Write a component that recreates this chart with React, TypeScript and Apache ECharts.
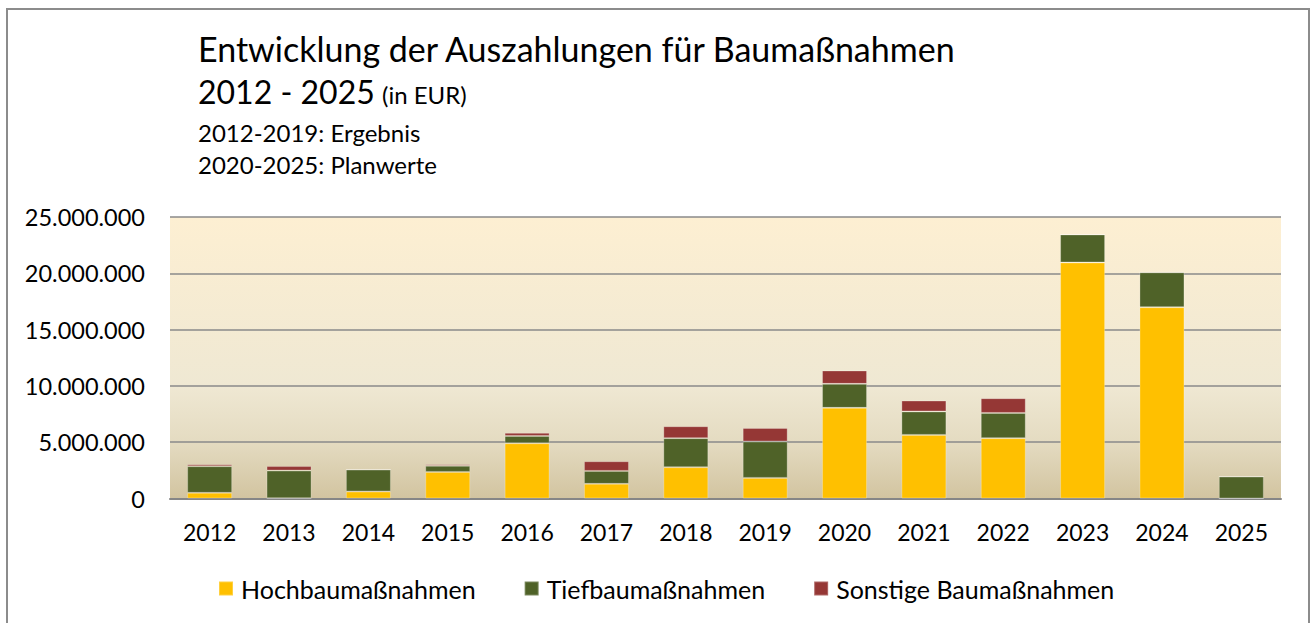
import React, { useEffect, useRef } from "react";
import * as echarts from "echarts";

const YEARS = ["2012", "2013", "2014", "2015", "2016", "2017", "2018", "2019", "2020", "2021", "2022", "2023", "2024", "2025"];
const HOCHBAU = [500000, 30000, 620000, 2360000, 4910000, 1300000, 2780000, 1830000, 8050000, 5650000, 5360000, 20960000, 16990000, 0];
const TIEFBAU = [2370000, 2450000, 1950000, 540000, 650000, 1150000, 2580000, 3230000, 2130000, 2080000, 2240000, 2490000, 3100000, 1950000];
const SONSTIGE = [180000, 400000, 0, 150000, 270000, 860000, 1060000, 1210000, 1190000, 970000, 1310000, 0, 0, 0];
const SERIES_NAMES = ["Hochbaumaßnahmen", "Tiefbaumaßnahmen", "Sonstige Baumaßnahmen"];
const TITLE_LINE1 = "Entwicklung der Auszahlungen für Baumaßnahmen";
const TITLE_LINE2 = "2012 - 2025";
const TITLE_UNIT = "(in EUR)";
const SUB_LINE1 = "2012-2019: Ergebnis";
const SUB_LINE2 = "2020-2025: Planwerte";

const FONT = "Lato";

function fmt(v: number): string {
  return String(Math.round(v)).replace(/\B(?=(\d{3})+(?!\d))/g, ".");
}

function txt(text: string, x: number, y: number, size: number) {
  return {
    type: "text",
    x,
    y,
    silent: true,
    style: { text, fontSize: size, fontFamily: FONT, fill: "#000", verticalAlign: "middle", align: "left" },
  };
}

export default function App() {
  const ref = useRef<HTMLDivElement>(null);
  useEffect(() => {
    if (!ref.current) return;
    const chart = echarts.init(ref.current, null, { renderer: "svg" });
    const colors = ["#FFC000", "#4F6228", "#953735"];
    const datas = [HOCHBAU, TIEFBAU, SONSTIGE];
    chart.setOption({
      animation: false,
      textStyle: { fontFamily: FONT },
      graphic: [
        {
          type: "rect",
          shape: { x: 7, y: 9, width: 1302, height: 700 },
          style: { fill: "none", stroke: "#8c8c8c", lineWidth: 2 },
          silent: true,
        },
        txt(TITLE_LINE1, 198, 48, 34),
        txt(TITLE_LINE2, 198, 91.5, 32),
        txt(TITLE_UNIT, 382, 94.5, 24),
        txt(SUB_LINE1, 198, 132.5, 24),
        txt(SUB_LINE2, 198, 164.5, 24),
      ],
      legend: {
        left: 218,
        top: 576,
        padding: 0,
        itemWidth: 14,
        itemHeight: 14,
        itemGap: 48,
        icon: "rect",
        textStyle: { fontSize: 25, color: "#000", fontFamily: FONT, padding: [0, 0, 0, 3] },
        data: SERIES_NAMES,
      },
      grid: {
        left: 170,
        right: 33,
        top: 217,
        bottom: 124.5,
        show: true,
        borderWidth: 0,
        backgroundColor: new echarts.graphic.LinearGradient(0, 0, 0, 1, [
          { offset: 0, color: "#fdefd2" },
          { offset: 0.6, color: "#efe8d3" },
          { offset: 0.8, color: "#e4dbc1" },
          { offset: 1, color: "#d2c4a0" },
        ]),
      },
      xAxis: {
        type: "category",
        data: YEARS,
        axisLine: { lineStyle: { color: "#868686", width: 2 } },
        axisTick: { show: false },
        axisLabel: { fontSize: 23, color: "#000", margin: 22, fontFamily: FONT },
      },
      yAxis: {
        type: "value",
        min: 0,
        max: 25000000,
        interval: 5000000,
        axisLine: { show: false },
        axisTick: { show: false },
        splitLine: { lineStyle: { color: "#8a8a8a", width: 1.5 } },
        axisLabel: { fontSize: 23.5, color: "#000", margin: 25, fontFamily: FONT, formatter: (v: number) => fmt(v) },
      },
      series: SERIES_NAMES.map((name, i) => ({
        name,
        type: "bar",
        stack: "total",
        barWidth: 45,
        data: datas[i],
        itemStyle: { color: colors[i], borderColor: "rgba(255,255,255,0.25)", borderWidth: 1 },
      })),
    });
    return () => chart.dispose();
  }, []);
  return <div ref={ref} style={{ position: "fixed", left: 0, top: 0, width: 1314, height: 623, background: "#fff" }} />;
}
